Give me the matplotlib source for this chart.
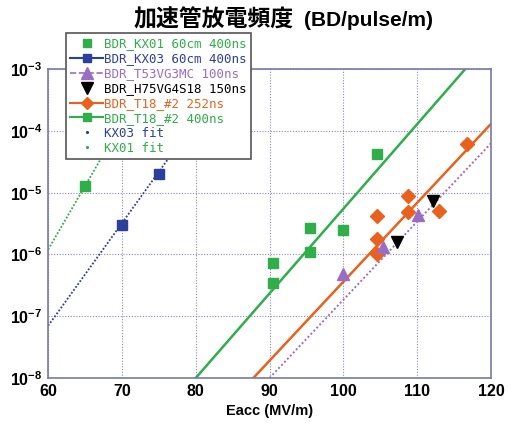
import matplotlib
matplotlib.use('Agg')
from matplotlib import pyplot as plt
from matplotlib.lines import Line2D
from matplotlib.ticker import LogLocator, FixedLocator

# --
# data

kx01_x = [65]
kx01_y = [1.3e-5]
kx03_x = [70, 75]
kx03_y = [3.0e-6, 2.0e-5]
t53_x = [100, 105.3, 110.1]
t53_y = [4.8e-7, 1.3e-6, 4.4e-6]
h75_x = [107.2, 112.2]
h75_y = [1.6e-6, 7.3e-6]
t18_252_x = [104.6, 104.6, 104.6, 108.8, 108.8, 113, 116.8]
t18_252_y = [1.0e-6, 1.8e-6, 4.2e-6, 4.9e-6, 8.7e-6, 5.0e-6, 6.1e-5]
t18_400_x = [90.5, 90.5, 95.5, 95.5, 100, 104.5]
t18_400_y = [3.5e-7, 7.2e-7, 1.1e-6, 2.7e-6, 2.5e-6, 4.3e-5]

# fit lines (end points)
kx01_fit_x = [60, 74.2]
kx01_fit_y = [1.2e-6, 1e-3]
kx03_fit_x = [60, 85]
kx03_fit_y = [7.0e-8, 1e-3]
t18_400_fit_x = [80, 116.5]
t18_400_fit_y = [1e-8, 1e-3]
t18_252_fit_x = [87.8, 120]
t18_252_fit_y = [1e-8, 1.3e-4]
t53_fit_x = [90, 120]
t53_fit_y = [1e-8, 6.3e-5]

labels = [
  'BDR_KX01 60cm 400ns',
  'BDR_KX03 60cm 400ns',
  'BDR_T53VG3MC 100ns',
  'BDR_H75VG4S18 150ns',
  'BDR_T18_#2 252ns',
  'BDR_T18_#2 400ns',
  'KX03 fit',
  'KX01 fit',
]

# --

GREEN = '#2fae4a'
BLUE = '#2c3f9a'
PURPLE = '#9b6cc4'
ORANGE = '#e8621e'
BLACK = '#000000'

fig = plt.figure(figsize=(5.12, 4.24), dpi=100)
ax = fig.add_axes([0.094, 0.1085, 0.865, 0.7285])

# fit lines
ax.plot(kx01_fit_x, kx01_fit_y, color=GREEN, lw=1.3, ls=(0, (1, 1)))
ax.plot(kx03_fit_x, kx03_fit_y, color=BLUE, lw=1.3, ls=(0, (1, 1)))
ax.plot(t18_400_fit_x, t18_400_fit_y, color=GREEN, lw=1.8)
ax.plot(t18_252_fit_x, t18_252_fit_y, color=ORANGE, lw=1.8)
ax.plot(t53_fit_x, t53_fit_y, color=PURPLE, lw=1.4, ls=(0, (1, 1.2)))

# data points
ax.plot(kx01_x, kx01_y, 's', color=GREEN, ms=6.5, zorder=4)
ax.plot(kx03_x, kx03_y, 's', color=BLUE, ms=6.5, zorder=4)
ax.plot(t18_400_x, t18_400_y, 's', color=GREEN, ms=6.5, zorder=4)
ax.plot(t18_252_x, t18_252_y, 'D', color=ORANGE, ms=7.5, zorder=4)
ax.plot(t53_x, t53_y, '^', color=PURPLE, ms=9, zorder=5)
ax.plot(h75_x, h75_y, 'v', color=BLACK, ms=8, zorder=5)

ax.set_yscale('log')
ax.set_xlim(60, 120)
ax.set_ylim(1e-8, 1e-3)
ax.xaxis.set_major_locator(FixedLocator([60, 70, 80, 90, 100, 110, 120]))
ax.yaxis.set_major_locator(LogLocator(base=10, numticks=10))
ax.yaxis.set_minor_locator(plt.NullLocator())

ax.grid(True, which='major', color='#8a8ac0', ls=(0, (1, 1.5)), lw=0.8)
ax.tick_params(length=0, pad=4, labelsize=11.5)
for lab in ax.get_xticklabels() + ax.get_yticklabels():
  lab.set_fontweight('bold')
  lab.set_family('Liberation Sans')
for sp in ax.spines.values():
  sp.set_color('#7878a8')
  sp.set_linewidth(1.2)

ax.set_xlabel('Eacc (MV/m)', fontsize=10.5, fontweight='bold',
              family='Liberation Sans', labelpad=4)

# title: CJK part and latin part are of different sizes in the reference
fig.text(134 / 512, 0.952, '加速管放電頻度', ha='left', va='center',
         fontsize=16.5, fontweight='bold', family='Noto Sans CJK JP')
fig.text(304 / 512, 0.952, '(BD/pulse/m)', ha='left', va='center',
         fontsize=15, fontweight='bold', family='Liberation Sans')

# legend
handles = [
  Line2D([], [], color=GREEN, ls='none', marker='s', ms=6),
  Line2D([], [], color=BLUE, lw=1.5, marker='s', ms=6),
  Line2D([], [], color=PURPLE, lw=1.2, ls='--', marker='^', ms=8),
  Line2D([], [], color=BLACK, ls='none', marker='v', ms=8),
  Line2D([], [], color=ORANGE, lw=1.5, marker='D', ms=6.5),
  Line2D([], [], color=GREEN, lw=1.5, marker='s', ms=6),
  Line2D([], [], color=BLUE, ls='none', marker='.', ms=2.5),
  Line2D([], [], color=GREEN, ls='none', marker='.', ms=2.5),
]
leg = fig.legend(handles, labels, loc='upper left',
                 bbox_to_anchor=(66 / 512, 1 - 33 / 424),
                 prop={'family': 'DejaVu Sans Mono', 'size': 9},
                 handlelength=2.6, handletextpad=0.1, labelspacing=0.15,
                 borderpad=0.35, borderaxespad=0, fancybox=False,
                 framealpha=1, edgecolor='#555555')
leg.get_frame().set_linewidth(1.2)
colors = [GREEN, BLUE, PURPLE, BLACK, ORANGE, GREEN, BLUE, GREEN]
for t, c in zip(leg.get_texts(), colors):
  t.set_color(c)

plt.savefig('out.png', dpi=100)
